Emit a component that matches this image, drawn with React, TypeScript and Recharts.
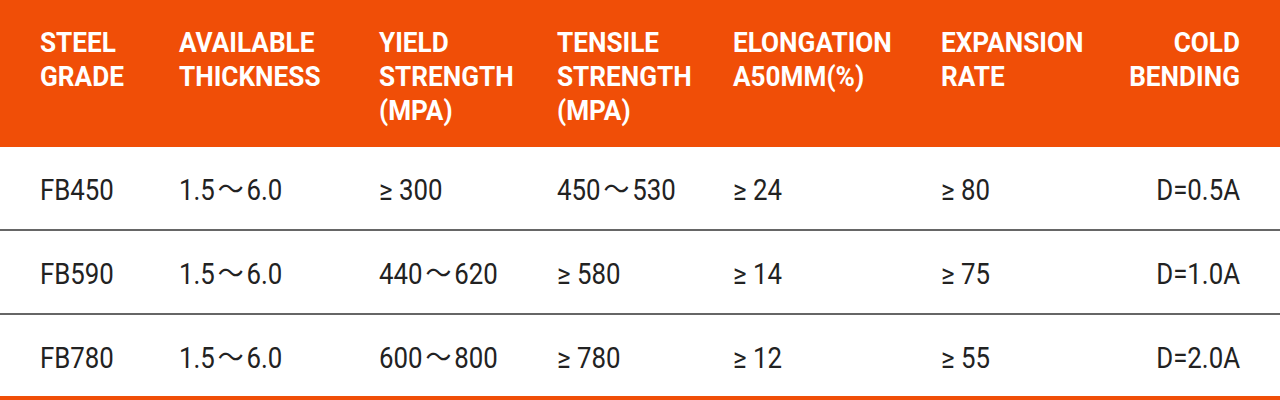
import React from "react";
import { ScatterChart, Scatter, XAxis, YAxis, ReferenceArea, ReferenceLine } from "recharts";

if (typeof document !== "undefined") {
  document.body.style.margin = "0";
}

// ---- data ----
const headerLabels: string[][] = [
  ["STEEL", "GRADE"],
  ["AVAILABLE", "THICKNESS"],
  ["YIELD", "STRENGTH", "(MPA)"],
  ["TENSILE", "STRENGTH", "(MPA)"],
  ["ELONGATION", "A50MM(%)"],
  ["EXPANSION", "RATE"],
  ["COLD", "BENDING"],
];
const steelGrades = ["FB450", "FB590", "FB780"];
const thickness = ["1.5～6.0", "1.5～6.0", "1.5～6.0"];
const yieldStrength = ["≥ 300", "440～620", "600～800"];
const tensileStrength = ["450～530", "≥ 580", "≥ 780"];
const elongation = ["≥ 24", "≥ 14", "≥ 12"];
const expansionRate = ["≥ 80", "≥ 75", "≥ 55"];
const coldBending = ["D=0.5A", "D=1.0A", "D=2.0A"];

const columns = [steelGrades, thickness, yieldStrength, tensileStrength, elongation, expansionRate, coldBending];

// ---- layout / style ----
const W = 1280;
const H = 400;
const ORANGE = "#F04E07";
const COL_X = [40, 179, 379, 557, 733, 941, 1240];
const COL_ANCHOR = ["start", "start", "start", "start", "start", "start", "end"];
const HEADER_BOTTOM = 147;
const HEADER_BASE = 52;
const HEADER_LINE = 34;
const ROW_BASE = 200;
const ROW_STEP = 84;
const SEP_Y = [230, 314];
const FONT = "Roboto, 'Noto Sans CJK SC', sans-serif";
const HEADER_SQUEEZE = 0.935;
const BODY_SQUEEZE = 0.89;
const TILDE_GAP = 3.3;

const headerPoints = headerLabels.map((lines, c) => ({
  x: COL_X[c],
  y: HEADER_BASE,
  lines,
  col: c,
  kind: "header",
}));

const bodyPoints = columns.flatMap((vals, c) =>
  vals.map((v, r) => ({
    x: COL_X[c],
    y: ROW_BASE + r * ROW_STEP,
    lines: [v],
    col: c,
    kind: "body",
  }))
);

const renderLine = (line: string) => {
  const parts = line.split("～");
  if (parts.length === 1) return line;
  const out: React.ReactNode[] = [];
  parts.forEach((p, i) => {
    if (i > 0) {
      out.push(
        <tspan key={`t${i}`} dx={TILDE_GAP}>
          ～
        </tspan>
      );
      out.push(
        <tspan key={`p${i}`} dx={TILDE_GAP}>
          {p}
        </tspan>
      );
    } else {
      out.push(<tspan key={`p${i}`}>{p}</tspan>);
    }
  });
  return out;
};

const CellText = (props: any) => {
  const { cx, cy, payload } = props;
  if (cx == null || cy == null) return null;
  const header = payload.kind === "header";
  const sq = header ? HEADER_SQUEEZE : BODY_SQUEEZE;
  return (
    <g transform={`translate(${cx},${cy}) scale(${sq},1)`}>
      {payload.lines.map((line: string, i: number) => (
        <text
          key={i}
          x={0}
          y={i * HEADER_LINE}
          textAnchor={COL_ANCHOR[payload.col]}
          fontFamily={FONT}
          fontSize={header ? 28 : 29}
          fontWeight={header ? 700 : 400}
          fill={header ? "#FFFFFF" : "#222222"}
        >
          {renderLine(line)}
        </text>
      ))}
    </g>
  );
};

export default function App() {
  return (
    <div style={{ width: W, height: H, background: "#fff" }}>
      <ScatterChart width={W} height={H} margin={{ top: 0, right: 0, bottom: 0, left: 0 }}>
        <XAxis type="number" dataKey="x" domain={[0, W]} hide allowDataOverflow />
        <YAxis type="number" dataKey="y" domain={[0, H]} reversed hide allowDataOverflow />
        <ReferenceArea x1={0} x2={W} y1={0} y2={HEADER_BOTTOM} fill={ORANGE} fillOpacity={1} stroke="none" />
        <ReferenceArea x1={0} x2={W} y1={396} y2={H} fill={ORANGE} fillOpacity={1} stroke="none" />
        {SEP_Y.map((y) => (
          <ReferenceLine key={y} y={y} stroke="#666666" strokeWidth={2} />
        ))}
        <Scatter data={headerPoints} shape={CellText} isAnimationActive={false} />
        <Scatter data={bodyPoints} shape={CellText} isAnimationActive={false} />
      </ScatterChart>
    </div>
  );
}
